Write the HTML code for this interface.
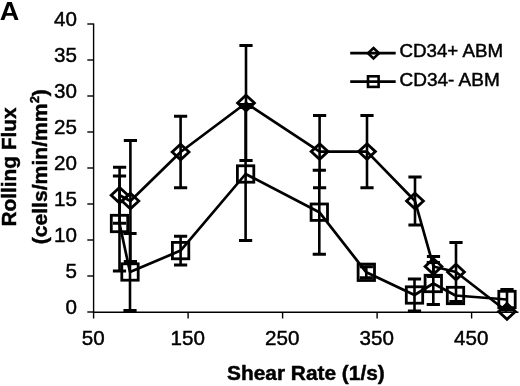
<!DOCTYPE html><html><head><meta charset="utf-8"><style>html,body{margin:0;padding:0;background:#fff;}svg{display:block;filter:grayscale(1)}text{font-family:"Liberation Sans",sans-serif;fill:#000;stroke:#000;stroke-width:0.45px}</style></head><body>
<svg width="520" height="386" viewBox="0 0 520 386">
<rect width="520" height="386" fill="#fff"/>
<g stroke="#000" stroke-width="1.4" fill="none">
<path d="M93.6,23.5V312.3H518.5"/>
<path d="M87.3,24H93.6"/>
<path d="M87.3,60H93.6"/>
<path d="M87.3,96H93.6"/>
<path d="M87.3,132H93.6"/>
<path d="M87.3,168H93.6"/>
<path d="M87.3,204H93.6"/>
<path d="M87.3,240H93.6"/>
<path d="M87.3,276H93.6"/>
<path d="M87.3,312H93.6"/>
<path d="M93.6,312.3V318.5"/>
<path d="M188.1,312.3V318.5"/>
<path d="M282.6,312.3V318.5"/>
<path d="M377.1,312.3V318.5"/>
<path d="M471.6,312.3V318.5"/>
</g>
<text x="77" y="26.0" font-size="20.6" text-anchor="end">40</text>
<text x="77" y="62.0" font-size="20.6" text-anchor="end">35</text>
<text x="77" y="98.0" font-size="20.6" text-anchor="end">30</text>
<text x="77" y="134.0" font-size="20.6" text-anchor="end">25</text>
<text x="77" y="170.0" font-size="20.6" text-anchor="end">20</text>
<text x="77" y="206.0" font-size="20.6" text-anchor="end">15</text>
<text x="77" y="242.0" font-size="20.6" text-anchor="end">10</text>
<text x="77" y="278.0" font-size="20.6" text-anchor="end">5</text>
<text x="77" y="314.0" font-size="20.6" text-anchor="end">0</text>
<text x="93.2" y="344.7" font-size="20.6" text-anchor="middle">50</text>
<text x="187.7" y="344.7" font-size="20.6" text-anchor="middle">150</text>
<text x="282.2" y="344.7" font-size="20.6" text-anchor="middle">250</text>
<text x="376.7" y="344.7" font-size="20.6" text-anchor="middle">350</text>
<text x="471.2" y="344.7" font-size="20.6" text-anchor="middle">450</text>
<text transform="translate(-0.3,19.9) scale(1.08,1)" font-size="25" font-weight="bold" style="stroke-width:0">A</text>
<text transform="translate(305.9,379.6) scale(1.071,1)" font-size="19.5" font-weight="bold" text-anchor="middle">Shear Rate (1/s)</text>
<text transform="translate(16.3,167) rotate(-90) scale(1.067,1)" font-size="19.5" font-weight="bold" text-anchor="middle">Rolling Flux</text>
<text transform="translate(47,166.7) rotate(-90) scale(1.084,1)" font-size="19.5" font-weight="bold" text-anchor="middle">(cells/min/mm<tspan font-size="12" dy="-8">2</tspan><tspan dy="8">)</tspan></text>
<g stroke="#000" stroke-width="2.7" fill="none"><path d="M350.2,53.2H395.7M350.2,81.6H395.7"/>
<path d="M373.5,48L379,53.2L373.5,58.5L368,53.2Z" stroke-width="2.6" fill="none"/>
<rect x="368" y="76.3" width="10.6" height="10.6" stroke-width="2.6" fill="none"/></g>
<text transform="translate(399.5,56.6) scale(1.04,1)" font-size="18">CD34+ ABM</text>
<text transform="translate(399.5,85.8) scale(1.055,1)" font-size="18">CD34- ABM</text>
<g stroke="#000" fill="none"><path d="M119.6,167.3V223.3" stroke-width="2.6"/><path d="M113.0,167.3H126.19999999999999M113.0,223.3H126.19999999999999" stroke-width="3.0"/><path d="M130.4,140.6V261.4" stroke-width="2.6"/><path d="M123.80000000000001,140.6H137.0M123.80000000000001,261.4H137.0" stroke-width="3.0"/><path d="M180.6,116.2V187.8" stroke-width="2.6"/><path d="M174.0,116.2H187.2M174.0,187.8H187.2" stroke-width="3.0"/><path d="M246,45.4V160.6" stroke-width="2.6"/><path d="M239.4,45.4H252.6M239.4,160.6H252.6" stroke-width="3.0"/><path d="M319.6,115.39999999999999V187.8" stroke-width="2.6"/><path d="M313.0,115.39999999999999H326.20000000000005M313.0,187.8H326.20000000000005" stroke-width="3.0"/><path d="M367,115.39999999999999V187.8" stroke-width="2.6"/><path d="M360.4,115.39999999999999H373.6M360.4,187.8H373.6" stroke-width="3.0"/><path d="M415,177V225" stroke-width="2.6"/><path d="M408.4,177H421.6M408.4,225H421.6" stroke-width="3.0"/><path d="M433.5,256.5V276.5" stroke-width="2.6"/><path d="M426.9,256.5H440.1M426.9,276.5H440.1" stroke-width="3.0"/><path d="M456,242.5V301.5" stroke-width="2.6"/><path d="M449.4,242.5H462.6M449.4,301.5H462.6" stroke-width="3.0"/><path d="M119.5,176.1V270.9" stroke-width="2.6"/><path d="M112.9,176.1H126.1M112.9,270.9H126.1" stroke-width="3.0"/><path d="M130,233.5V310.5" stroke-width="2.6"/><path d="M123.4,233.5H136.6M123.4,310.5H136.6" stroke-width="3.0"/><path d="M180.6,236.2V265.0" stroke-width="2.6"/><path d="M174.0,236.2H187.2M174.0,265.0H187.2" stroke-width="3.0"/><path d="M245.6,107.4V240.6" stroke-width="2.6"/><path d="M239.0,107.4H252.2M239.0,240.6H252.2" stroke-width="3.0"/><path d="M319.3,170.2V254.2" stroke-width="2.6"/><path d="M312.7,170.2H325.90000000000003M312.7,254.2H325.90000000000003" stroke-width="3.0"/><path d="M366.3,266.8V277.8" stroke-width="2.6"/><path d="M359.7,266.8H372.90000000000003M359.7,277.8H372.90000000000003" stroke-width="3.0"/><path d="M414.5,279V311" stroke-width="2.6"/><path d="M407.9,279H421.1M407.9,311H421.1" stroke-width="3.0"/><path d="M433.3,262.5V304.5" stroke-width="2.6"/><path d="M426.7,262.5H439.90000000000003M426.7,304.5H439.90000000000003" stroke-width="3.0"/><path d="M507,289.5V309.5" stroke-width="2.6"/><path d="M500.4,289.5H513.6M500.4,309.5H513.6" stroke-width="3.0"/></g>
<polyline points="119.6,195.3 130.4,201 180.6,152 246,103 319.6,151.6 367,151.6 415,201 433.5,266.5 456,272 507,311.5" fill="none" stroke="#000" stroke-width="2.7" stroke-linejoin="round"/>
<polyline points="119.5,223.5 130,272 180.6,250.6 245.6,174 319.3,212.2 366.3,272.3 414.5,295 433.3,283.5 455.5,295.5 507,299.5" fill="none" stroke="#000" stroke-width="2.7" stroke-linejoin="round"/>
<g fill="none" stroke="#000" stroke-width="2.8"><path d="M119.6,187.5L128.0,195.3L119.6,203.10000000000002L111.19999999999999,195.3Z"/><path d="M130.4,193.2L138.8,201L130.4,208.8L122.0,201Z"/><path d="M180.6,144.2L189.0,152L180.6,159.8L172.2,152Z"/><path d="M246,95.2L254.4,103L246,110.8L237.6,103Z"/><path d="M319.6,143.79999999999998L328.0,151.6L319.6,159.4L311.20000000000005,151.6Z"/><path d="M367,143.79999999999998L375.4,151.6L367,159.4L358.6,151.6Z"/><path d="M415,193.2L423.4,201L415,208.8L406.6,201Z"/><path d="M433.5,258.7L441.9,266.5L433.5,274.3L425.1,266.5Z"/><path d="M456,264.2L464.4,272L456,279.8L447.6,272Z"/><path d="M507,303.7L515.4,311.5L507,319.3L498.6,311.5Z"/></g>
<g fill="none" stroke="#000" stroke-width="2.8"><rect x="111.3" y="215.3" width="16.4" height="16.4"/><rect x="121.8" y="263.8" width="16.4" height="16.4"/><rect x="172.4" y="242.4" width="16.4" height="16.4"/><rect x="237.4" y="165.8" width="16.4" height="16.4"/><rect x="311.1" y="204.0" width="16.4" height="16.4"/><rect x="358.1" y="264.1" width="16.4" height="16.4"/><rect x="406.3" y="286.8" width="16.4" height="16.4"/><rect x="425.1" y="275.3" width="16.4" height="16.4"/><rect x="447.3" y="287.3" width="16.4" height="16.4"/><rect x="498.8" y="291.3" width="16.4" height="16.4"/></g>
<path d="M236.5,103L246,103L246,111.2Z M246,103L255.5,103L246,111.2Z" fill="#000"/>
<path d="M498,311.5L507,302.5L516,311.5Z" fill="#000"/>
</svg></body></html>
